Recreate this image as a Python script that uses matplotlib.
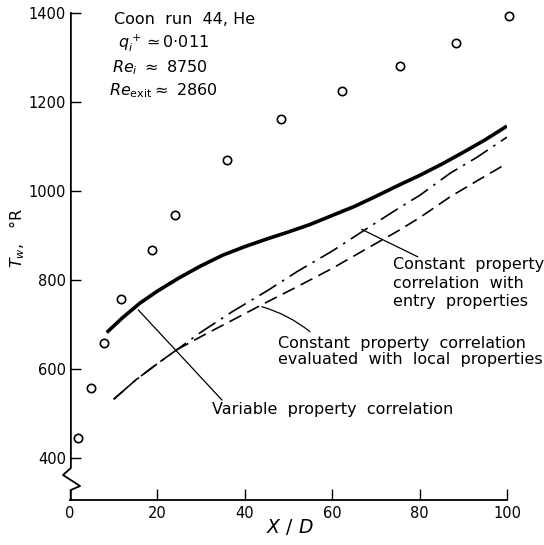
import matplotlib
matplotlib.use("Agg")
import matplotlib.pyplot as plt
from matplotlib.lines import Line2D

# ---- data ----
exp_x = [1.9, 4.8, 7.7, 11.7, 18.8, 24.1, 35.9, 48.3, 62.3, 75.5, 88.3, 100.5]
exp_T = [446, 558, 658, 757, 867, 946, 1070, 1162, 1225, 1281, 1333, 1393]

var_x = [8.4, 12, 16, 20, 25, 30, 35, 40, 45, 50, 55, 60, 65, 70, 75, 80, 85, 90, 95, 100]
var_T = [682, 715, 748, 775, 805, 832, 856, 875, 892, 908, 925, 945, 965, 988, 1012, 1035, 1060, 1087, 1115, 1146]

entry_x = [10, 15, 20, 24.4, 30, 37, 45, 52, 60, 68, 75, 80, 87, 93, 100]
entry_T = [532, 575, 612, 643, 683, 728, 775, 819, 865, 916, 960, 990, 1040, 1075, 1121]

local_x = [10, 15, 20, 24.4, 30, 38, 45, 52, 60, 68, 75, 80, 87, 93, 100]
local_T = [532, 575, 612, 643, 673, 714, 750, 785, 826, 871, 910, 940, 987, 1022, 1062]

xticks = [0, 20, 40, 60, 80, 100]
yticks = [400, 600, 800, 1000, 1200, 1400]

W, H = 544, 545
fig = plt.figure(figsize=(W / 100, H / 100), dpi=100)
ax = fig.add_axes([70 / W, 1 - 500 / H, 437 / W, 487 / H])

FONT = 'DejaVu Sans'
fs = 10.5
fa = 11.5

ax.plot(exp_x, exp_T, linestyle='none', marker='o', markersize=6,
        markerfacecolor='white', markeredgecolor='black', markeredgewidth=1.2, clip_on=False, zorder=5)
ax.plot(var_x, var_T, color='black', linewidth=2.6, solid_capstyle='butt')
ax.plot(entry_x, entry_T, color='black', linewidth=1.2, dashes=(12, 4, 1.5, 4))
ax.plot(local_x, local_T, color='black', linewidth=1.2, dashes=(8, 4))

ax.set_xlim(0, 100)
ax.set_ylim(305.6, 1400)
ax.set_xticks(xticks)
ax.set_yticks(yticks)
ax.set_xticklabels([str(v) for v in xticks], fontsize=fs, family=FONT)
ax.set_yticklabels([str(v) for v in yticks], fontsize=fs, family=FONT)
ax.tick_params(direction='in', length=8, width=1.0, color='black')
ax.tick_params(axis='x', pad=4)
ax.tick_params(axis='y', pad=3)

for s in ['top', 'right', 'left']:
    ax.spines[s].set_visible(False)
ax.spines['bottom'].set_linewidth(1.3)

# left axis with break (axes-fraction coordinates)
bx = [0.002, 0.002, -0.016, 0.023, 0.002, 0.002]
by = [1.0, 0.0657, 0.0513, 0.0287, 0.0205, 0.0]
ax.add_line(Line2D(bx, by, transform=ax.transAxes, color='black', linewidth=1.3, clip_on=False))

# header text
ax.text(10.1, 1386, 'Coon  run  44, He', fontsize=fa, family=FONT, va='center', ha='left')
ax.text(11.0, 1332, r'$q_i^+$$\simeq$0$\cdot$011', fontsize=fa, family=FONT, va='center', ha='left')
ax.text(9.5, 1278, r'$Re_i$ $\approx$ 8750', fontsize=fa, family=FONT, va='center', ha='left')
ax.text(9.0, 1226, r'$Re_{\rm exit}$$\approx$ 2860', fontsize=fa, family=FONT, va='center', ha='left')

# leaders and labels
lp = dict(arrowstyle='-', color='black', linewidth=0.9, shrinkA=0, shrinkB=0)
ax.annotate('', xy=(15.6, 733), xytext=(34.8, 530), arrowprops=lp)
ax.text(32.5, 510, 'Variable  property  correlation', fontsize=fa, family=FONT, va='center', ha='left')

ax.annotate('', xy=(43.9, 740), xytext=(54.9, 684),
            arrowprops=dict(lp, connectionstyle='arc3,rad=0.1'))
ax.text(47.6, 639, 'Constant  property  correlation\nevaluated  with  local  properties',
        fontsize=fa, family=FONT, va='center', ha='left', linespacing=1.1)

ax.annotate('', xy=(66.7, 914), xytext=(79.6, 852), arrowprops=lp)
ax.text(73.9, 793, 'Constant  property\ncorrelation  with\nentry  properties',
        fontsize=fa, family=FONT, va='center', ha='left', linespacing=1.3)

fig.text(17 / W, 1 - 238 / H, r'$T_w$,   °R', rotation=90, fontsize=fa, family=FONT,
         ha='center', va='center')
fig.text(290 / W, 1 - 527 / H, r'$X\ /\ D$', fontsize=fs + 3, family=FONT, ha='center', va='center')

fig.savefig('out.png', dpi=100)
